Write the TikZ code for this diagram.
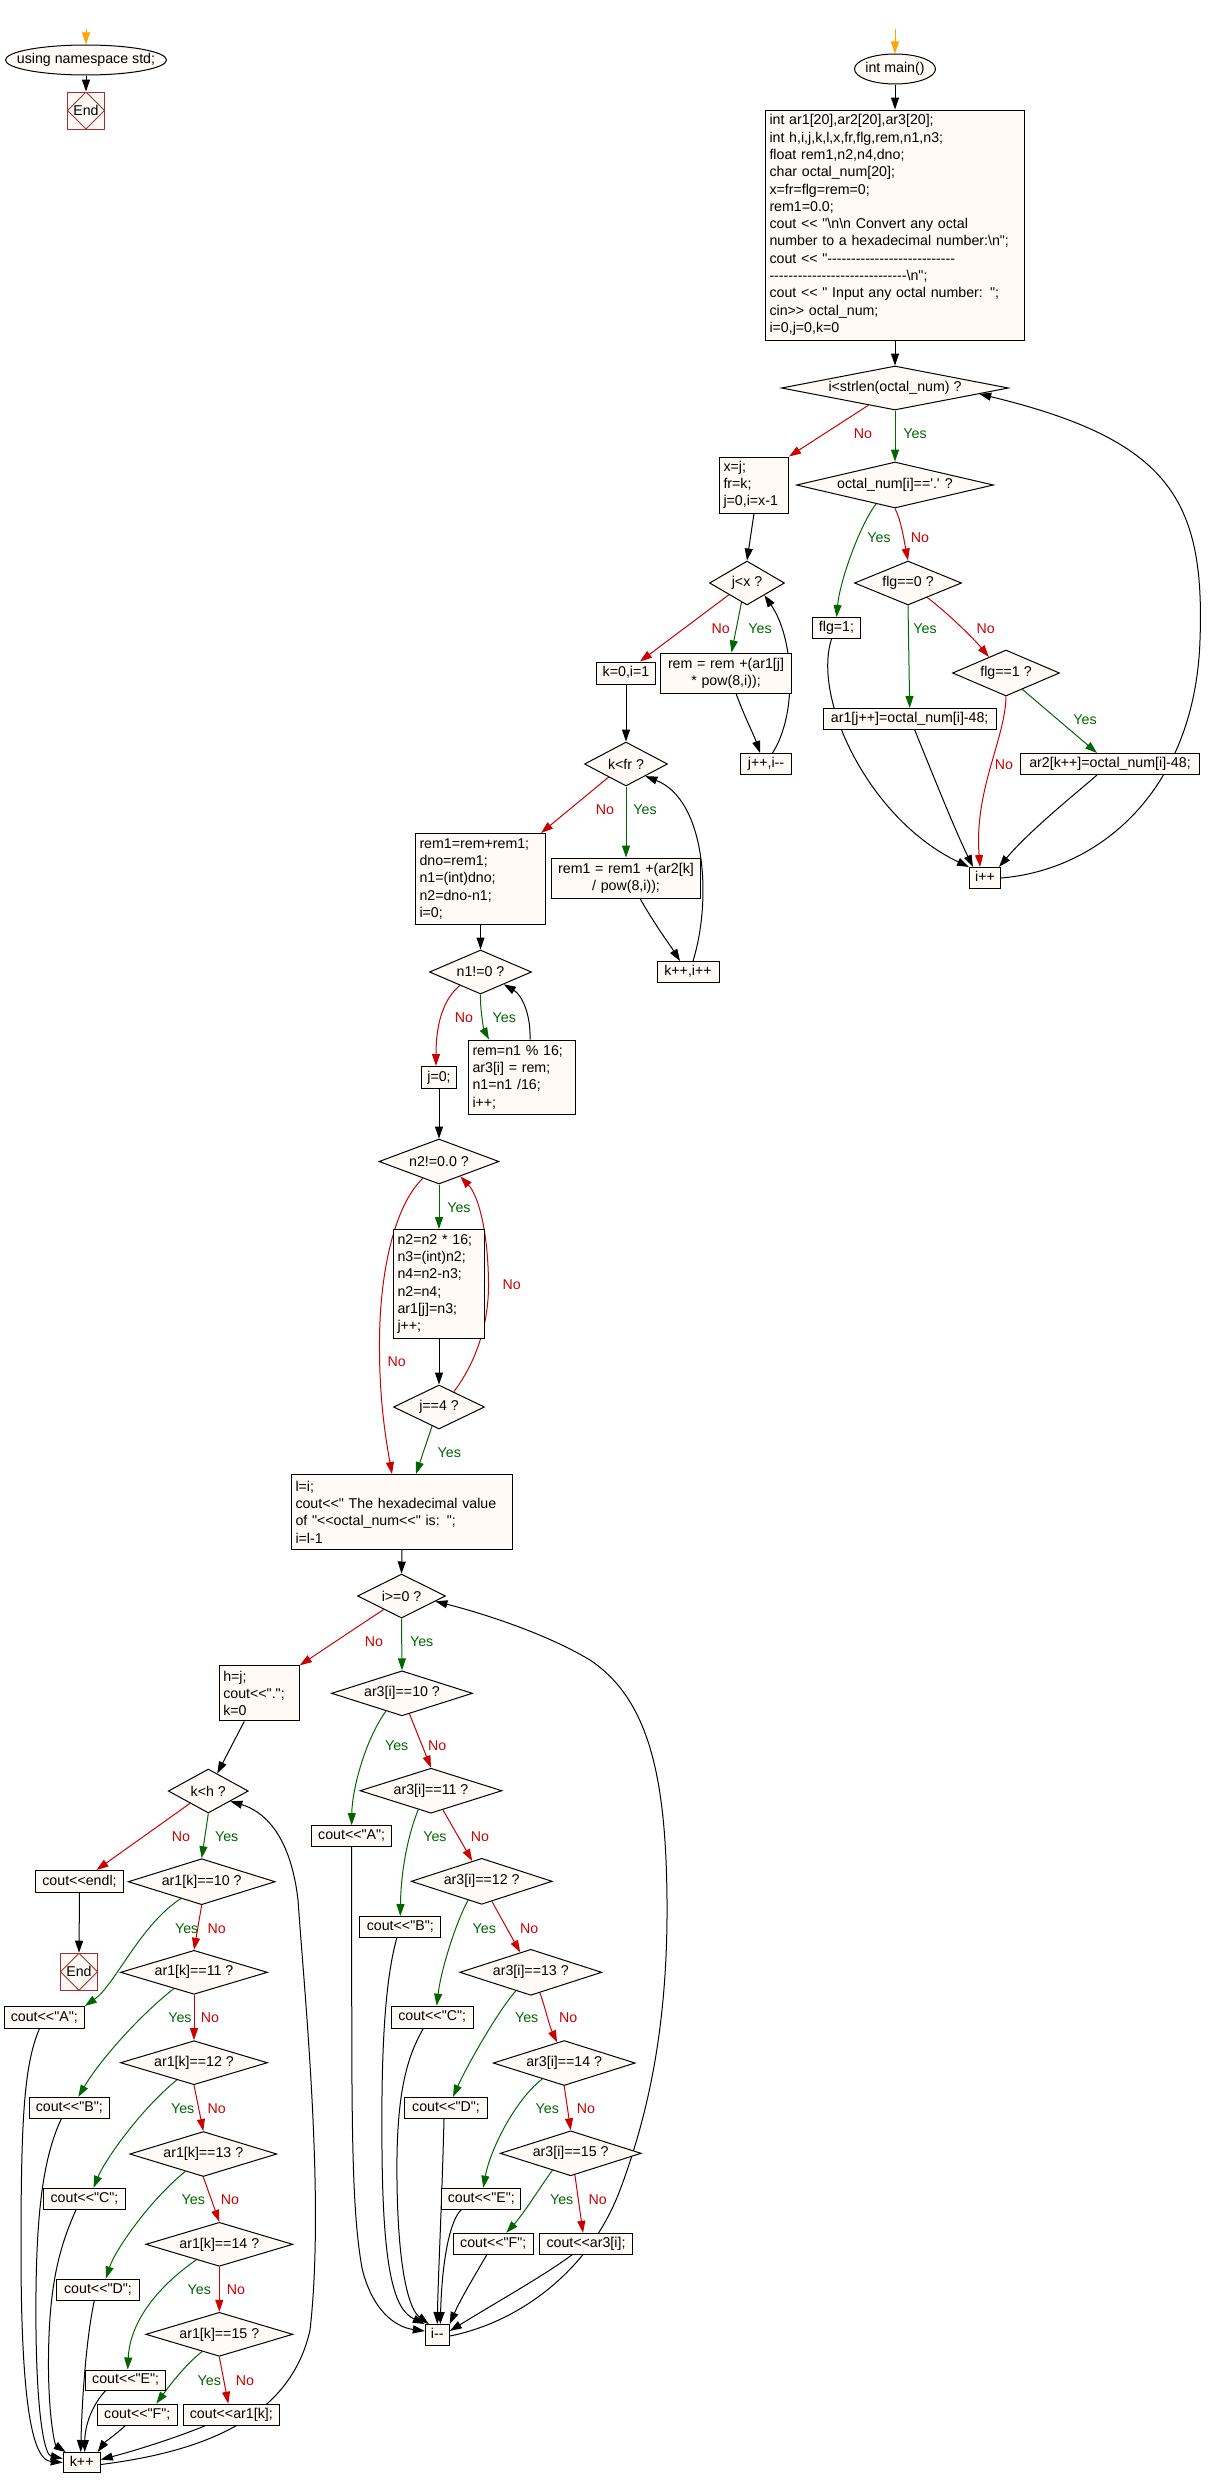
\documentclass[tikz,border=0pt]{standalone}
\usepackage{xcolor}
\usepackage{fontspec}
\newfontfamily\chartfamily{Liberation Sans}
\newcommand{\chartfont}{\chartfamily\fontsize{14.2pt}{17.3pt}\selectfont}
\usepackage{tikz}
\usetikzlibrary{shapes.geometric, arrows.meta, positioning}
\definecolor{boxfill}{HTML}{FFFAF5}
\definecolor{nored}{HTML}{CC0000}
\definecolor{yesgreen}{HTML}{006600}
\definecolor{endred}{HTML}{A03030}
\definecolor{startorange}{HTML}{FFA500}
\pgfdeclarelayer{edges}
\pgfsetlayers{edges,main}
\tikzset{zerowidth/.style={execute at begin node={\hbox to 0pt\bgroup\hss},
    execute at end node={\hss\egroup}}}
\tikzstyle{startstop} = [ellipse, draw=black, line width=1pt, fill=boxfill,
inner sep=0pt, minimum height=30pt, font=\chartfont, zerowidth]
\tikzstyle{process} = [rectangle, draw=black, line width=1pt, fill=boxfill,
inner sep=0pt, minimum height=21pt, text height=10.5pt, text depth=3pt,
font=\chartfont]
\tikzstyle{block} = [rectangle, draw=black, line width=1pt, fill=boxfill,
inner xsep=4pt, inner ysep=2pt, align=left, font=\chartfont]
\tikzstyle{decision} = [diamond, draw=black, line width=1pt, fill=boxfill,
inner sep=0pt, font=\chartfont, zerowidth]
\tikzstyle{stop} = [rectangle, draw=endred, line width=1pt, fill=boxfill,
minimum width=37pt, minimum height=37pt, inner sep=0pt, font=\chartfont,
path picture={\draw[endred, line width=0.8pt] (path picture bounding box.north)
  -- (path picture bounding box.east) -- (path picture bounding box.south)
  -- (path picture bounding box.west) -- cycle;}]
\tikzstyle{yeslbl} = [text=yesgreen, inner sep=0pt, font=\chartfont]
\tikzstyle{nolbl} = [text=nored, inner sep=0pt, font=\chartfont]
\tikzstyle{arrow} = [draw=black, line width=1pt, -{Triangle[length=12pt,width=8pt]}]
\tikzstyle{yesarrow} = [arrow, draw=yesgreen]
\tikzstyle{noarrow} = [arrow, draw=nored]
\tikzstyle{startarrow} = [arrow, draw=startorange]

\begin{document}
\begin{tikzpicture}[x=1pt, y=-1pt]
\useasboundingbox (0,0) rectangle (1214,2489);

% namespace part
\coordinate (sA) at (86,29);
\node (uns) [startstop, minimum width=161pt] at (86,60) {using namespace std;};
\node (endA) [stop] at (86,110.5) {End};

% main: reading the octal number
\coordinate (sB) at (895,29);
\node (mainfn) [startstop, minimum width=81pt] at (895,69) {int main()};
\node (decl) [block, text width=251pt, minimum height=230pt] at (895,225)
  {int ar1[20],ar2[20],ar3[20];\\
   int h,i,j,k,l,x,fr,flg,rem,n1,n3;\\
   float rem1,n2,n4,dno;\\
   char octal\_num[20];\\
   x=fr=flg=rem=0;\\
   rem1=0.0;\\
   cout << "\textbackslash n\textbackslash n Convert any octal\\
   number to a hexadecimal number:\textbackslash n";\\
   cout << "---------------------------\\
   -----------------------------\textbackslash n";\\
   cout << " Input any octal number: ";\\
   cin>> octal\_num;\\
   i=0,j=0,k=0};
\node (d1) [decision, minimum width=227pt, minimum height=44pt] at (895,388) {i<strlen(octal\_num) ?};
\node (xj) [block, text width=61pt, minimum height=56pt] at (754,485) {x=j;\\fr=k;\\j=0,i=x-1};
\node (d2) [decision, minimum width=197pt, minimum height=46pt] at (895,485) {octal\_num[i]=='.' ?};
\node (flg1) [process, minimum width=48pt] at (836.5,628) {flg=1;};
\node (d3) [decision, minimum width=107pt, minimum height=44pt] at (908,583) {flg==0 ?};
\node (d4) [decision, minimum width=107pt, minimum height=46pt] at (1006,673) {flg==1 ?};
\node (ar1b) [process, minimum width=173pt] at (909.7,719) {ar1[j++]=octal\_num[i]-48;};
\node (ar2b) [process, minimum width=179pt] at (1110,764) {ar2[k++]=octal\_num[i]-48;};
\node (ipp) [process, minimum width=31pt] at (985,878) {i++};

% integer and fraction parts
\node (d5) [decision, minimum width=75pt, minimum height=44pt] at (747,583) {j<x ?};
\node (kb) [process, minimum width=59pt, minimum height=22pt] at (626,673) {k=0,i=1};
\node (remb) [block, align=center, text width=123pt, minimum height=40pt] at (726,673) {rem = rem +(ar1[j]\\{}* pow(8,i));};
\node (jpp) [process, minimum width=51pt] at (766,764) {j++,i--};
\node (d6) [decision, minimum width=83pt, minimum height=44pt] at (626,764) {k<fr ?};
\node (rem1b) [block, text width=122pt, minimum height=91pt] at (480.5,879) {rem1=rem+rem1;\\dno=rem1;\\n1=(int)dno;\\n2=dno-n1;\\i=0;};
\node (rem1c) [block, align=center, text width=141pt, minimum height=40pt] at (626,878) {rem1 = rem1 +(ar2[k]\\/ pow(8,i));};
\node (kpp) [process, minimum width=62pt] at (688,972) {k++,i++};
\node (d7) [decision, minimum width=102pt, minimum height=44pt] at (480.5,972) {n1!=0 ?};
\node (j0) [process, minimum width=35pt, minimum height=22pt] at (439,1077.5) {j=0;};
\node (remn) [block, text width=99pt, minimum height=74pt] at (522,1077) {rem=n1 \% 16;\\ar3[i] = rem;\\n1=n1 /16;\\i++;};
\node (d8) [decision, minimum width=120pt, minimum height=45pt] at (439,1161.5) {n2!=0.0 ?};
\node (n2b) [block, text width=83pt, minimum height=109pt] at (439,1284) {n2=n2 * 16;\\n3=(int)n2;\\n4=n2-n3;\\n2=n4;\\ar1[j]=n3;\\j++;};
\node (d9) [decision, minimum width=91pt, minimum height=44pt] at (439,1407) {j==4 ?};
\node (lb) [block, text width=213pt, minimum height=75pt] at (402,1512) {l=i;\\cout<<" The hexadecimal value\\of "<<octal\_num<<" is: ";\\i=l-1};
\node (d10) [decision, minimum width=88pt, minimum height=44pt] at (401.5,1596) {i>=0 ?};

% fraction digits
\node (hb) [block, text width=72pt, minimum height=55pt] at (259.3,1693.3) {h=j;\\cout<<".";\\k=0};
\node (d11) [decision, minimum width=80pt, minimum height=44pt] at (208.3,1791) {k<h ?};
\node (coutendl) [process, minimum width=88pt, minimum height=22pt] at (79.5,1881.5) {cout<<endl;};
\node (endB) [stop] at (79,1971.7) {End};
\node (a10) [decision, minimum width=147pt, minimum height=46pt] at (201.7,1881.7) {ar1[k]==10 ?};
\node (a11) [decision, minimum width=147pt, minimum height=44pt] at (194,1972.3) {ar1[k]==11 ?};
\node (a12) [decision, minimum width=147pt, minimum height=44pt] at (194,2062.7) {ar1[k]==12 ?};
\node (a13) [decision, minimum width=147pt, minimum height=45pt] at (203.3,2154) {ar1[k]==13 ?};
\node (a14) [decision, minimum width=147pt, minimum height=44pt] at (219.3,2244.3) {ar1[k]==14 ?};
\node (a15) [decision, minimum width=147pt, minimum height=44pt] at (219.3,2334.3) {ar1[k]==15 ?};
\node (cA1) [process, minimum width=80pt, minimum height=22pt] at (44.3,2017.5) {cout<<"A";};
\node (cB1) [process, minimum width=80pt] at (69.3,2107.8) {cout<<"B";};
\node (cC1) [process, minimum width=82pt] at (84.5,2198.8) {cout<<"C";};
\node (cD1) [process, minimum width=83pt] at (98,2289.5) {cout<<"D";};
\node (cE1) [process, minimum width=80pt, minimum height=20pt] at (125.7,2380) {cout<<"E";};
\node (cF1) [process, minimum width=80pt] at (137.3,2414.7) {cout<<"F";};
\node (cX1) [process, minimum width=96pt] at (231.3,2414.7) {cout<<ar1[k];};
\node (kpp2) [process, minimum width=37pt, minimum height=20pt] at (81.7,2462.5) {k++};

% integer digits
\node (b10) [decision, minimum width=141pt, minimum height=45pt] at (402,1693.3) {ar3[i]==10 ?};
\node (b11) [decision, minimum width=142pt, minimum height=45pt] at (431,1790.7) {ar3[i]==11 ?};
\node (b12) [decision, minimum width=141pt, minimum height=46pt] at (481.7,1881.3) {ar3[i]==12 ?};
\node (b13) [decision, minimum width=142pt, minimum height=46pt] at (530.8,1972.3) {ar3[i]==13 ?};
\node (b14) [decision, minimum width=142pt, minimum height=45pt] at (564.2,2063) {ar3[i]==14 ?};
\node (b15) [decision, minimum width=141pt, minimum height=45pt] at (570.7,2153.3) {ar3[i]==15 ?};
\node (cA2) [process, minimum width=80pt] at (351.7,1836.2) {cout<<"A";};
\node (cB2) [process, minimum width=81pt] at (400.3,1927) {cout<<"B";};
\node (cC2) [process, minimum width=82pt, minimum height=22pt] at (432.2,2017.2) {cout<<"C";};
\node (cD2) [process, minimum width=83pt] at (446,2107.8) {cout<<"D";};
\node (cE2) [process, minimum width=79pt] at (481.3,2198.7) {cout<<"E";};
\node (cF2) [process, minimum width=80pt] at (493.3,2243.8) {cout<<"F";};
\node (cX2) [process, minimum width=93pt] at (586,2243.8) {cout<<ar3[i];};
\node (imm) [process, minimum width=24pt] at (437.3,2335) {i--};

% branch labels
\node (ln1) [nolbl] at (863,434) {No};
\node (ly1) [yeslbl] at (915,434) {Yes};
\node (ly2) [yeslbl] at (879,538) {Yes};
\node (ln2) [nolbl] at (920,538) {No};
\node (ly3) [yeslbl] at (925,628.7) {Yes};
\node (ln3) [nolbl] at (985.7,628.7) {No};
\node (ly4) [yeslbl] at (1085,720) {Yes};
\node (ln4) [nolbl] at (1004,765) {No};
\node (ln5) [nolbl] at (720.7,628.3) {No};
\node (ly5) [yeslbl] at (760,628.3) {Yes};
\node (ln6) [nolbl] at (605,810) {No};
\node (ly6) [yeslbl] at (645,810) {Yes};
\node (ln7) [nolbl] at (464,1017.7) {No};
\node (ly7) [yeslbl] at (504.3,1017.7) {Yes};
\node (ly8) [yeslbl] at (459,1207.7) {Yes};
\node (ln8) [nolbl] at (396.7,1361.7) {No};
\node (ln9) [nolbl] at (511.7,1285) {No};
\node (ly9) [yeslbl] at (449.3,1452.7) {Yes};
\node (ln10) [nolbl] at (374,1641.7) {No};
\node (ly10) [yeslbl] at (421.7,1641.7) {Yes};
\node (ln11) [nolbl] at (181,1836.7) {No};
\node (ly11) [yeslbl] at (226.7,1836.7) {Yes};
\node (ly12) [yeslbl] at (186.7,1928.3) {Yes};
\node (ln12) [nolbl] at (216.7,1928.3) {No};
\node (ly13) [yeslbl] at (180,2017.7) {Yes};
\node (ln13) [nolbl] at (210,2017.7) {No};
\node (ly14) [yeslbl] at (182.7,2109) {Yes};
\node (ln14) [nolbl] at (216.7,2109) {No};
\node (ly15) [yeslbl] at (193.3,2200) {Yes};
\node (ln15) [nolbl] at (230,2200) {No};
\node (ly16) [yeslbl] at (199.3,2290) {Yes};
\node (ln16) [nolbl] at (236,2290) {No};
\node (ly17) [yeslbl] at (209.3,2380.7) {Yes};
\node (ln17) [nolbl] at (245,2380.7) {No};
\node (ly18) [yeslbl] at (396.7,1746) {Yes};
\node (ln18) [nolbl] at (437.3,1746) {No};
\node (ly19) [yeslbl] at (435,1836.7) {Yes};
\node (ln19) [nolbl] at (480,1836.7) {No};
\node (ly20) [yeslbl] at (484.3,1928.3) {Yes};
\node (ln20) [nolbl] at (529.3,1928.3) {No};
\node (ly21) [yeslbl] at (526.7,2017.7) {Yes};
\node (ln21) [nolbl] at (568.3,2017.7) {No};
\node (ly22) [yeslbl] at (547.3,2109) {Yes};
\node (ln22) [nolbl] at (586,2109) {No};
\node (ly23) [yeslbl] at (561.7,2200) {Yes};
\node (ln23) [nolbl] at (597.7,2200) {No};

\begin{pgfonlayer}{edges}
\fill [white] (0,0) rectangle (1214,2489);
\draw [startarrow] (sA) -- (uns.north);
\draw [arrow] (uns.south) -- (endA.north);
\draw [startarrow] (sB) -- (mainfn.north);
\draw [arrow] (mainfn.south) -- (decl.north);
\draw [arrow] (decl.south) -- (d1.north);

% reading loop
\draw [noarrow] (d1.213) -- (xj.north east);
\draw [yesarrow] (d1.south) -- (d2.north);
\draw [yesarrow] (d2.225) .. controls (860,525) and (840,580) .. (flg1.north);
\draw [noarrow] (d2.south) .. controls (901,520) and (904,540) .. (d3.north);
\draw [yesarrow] (d3.south) -- (ar1b.north);
\draw [noarrow] (d3.323) .. controls (950,615) and (975,640) .. (d4.137);
\draw [yesarrow] (d4.315) -- ([xshift=-13pt]ar2b.north);
\draw [noarrow] (d4.south) .. controls (1005,740) and (974,790) .. ([xshift=-5pt]ipp.north);
\draw [arrow] ([xshift=-5pt]flg1.south) .. controls (812,700) and (870,820) .. (ipp.north west);
\draw [arrow] ([xshift=5pt]ar1b.south) .. controls (935,780) and (955,830) .. ([xshift=-12pt]ipp.north);
\draw [arrow] ([xshift=-13pt]ar2b.south) .. controls (1080,790) and (1030,830) .. ([xshift=-2pt]ipp.north east);
\draw [arrow] (ipp.east) .. controls (1100,870) and (1195,790) .. (1200,640)
  .. controls (1205,500) and (1170,440) .. (d1.356);

% integer part
\draw [arrow] (xj.south) -- (d5.north);
\draw [noarrow] (d5.213) -- ([xshift=14pt]kb.north);
\draw [yesarrow] (d5.254) -- ([xshift=5.5pt]remb.north);
\draw [arrow] ([xshift=10pt]remb.south) .. controls (745,718) and (754,735) .. ([xshift=-6pt]jpp.north);
\draw [arrow] ([xshift=6.5pt]jpp.north) .. controls (797,715) and (795,640) .. (d5.325);

% fraction part
\draw [arrow] (kb.south) -- (d6.north);
\draw [noarrow] (d6.217) -- ([xshift=-5pt]rem1b.north east);
\draw [yesarrow] (d6.south) -- (rem1c.north);
\draw [arrow] ([xshift=14pt]rem1c.south) .. controls (655,925) and (670,945) .. ([xshift=-8pt]kpp.north);
\draw [arrow] ([xshift=5pt]kpp.north) .. controls (712,900) and (706,800) .. (d6.328);

% hexadecimal digits
\draw [arrow] (rem1b.south) -- (d7.north);
\draw [noarrow] (d7.213) .. controls (445,998) and (436,1020) .. ([xshift=-3pt]j0.north);
\draw [yesarrow] (d7.south) .. controls (480,1010) and (484,1030) .. ([xshift=-33pt]remn.north);
\draw [arrow] ([xshift=8pt]remn.north) .. controls (531,1015) and (522,995) .. (d7.332);
\draw [arrow] (j0.south) -- (d8.north);
\draw [yesarrow] (d8.south) -- (n2b.north);
\draw [noarrow] (d8.226) .. controls (395,1205) and (380,1270) .. (379.5,1340)
  .. controls (379,1400) and (386,1440) .. ([xshift=-10pt]lb.north);
\draw [arrow] (n2b.south) -- (d9.north);
\draw [noarrow] (d9.46) .. controls (478,1360) and (489,1320) .. (488.5,1283)
  .. controls (488,1230) and (478,1195) .. (d8.325);
\draw [yesarrow] (d9.250) -- ([xshift=14pt]lb.north);
\draw [arrow] (lb.south) -- (d10.north);
\draw [noarrow] (d10.217) -- (hb.north east);
\draw [yesarrow] (d10.south) -- (b10.north);

% printing the fraction
\draw [arrow] ([xshift=-15pt]hb.south) -- (d11.63);
\draw [noarrow] (d11.214) -- ([xshift=17pt]coutendl.north);
\draw [yesarrow] (d11.south) -- (a10.north);
\draw [arrow] (coutendl.south) -- (endB.north);
\draw [yesarrow] (a10.219) .. controls (140,1925) and (115,1985) .. (cA1.north east);
\draw [noarrow] (a10.south) -- (a11.north);
\draw [yesarrow] (a11.219) .. controls (140,2015) and (100,2060) .. ([xshift=9pt]cB1.north);
\draw [noarrow] (a11.south) -- (a12.north);
\draw [yesarrow] (a12.225) .. controls (140,2110) and (105,2160) .. ([xshift=9pt]cC1.north);
\draw [noarrow] (a12.south) -- (a13.north);
\draw [yesarrow] (a13.224) .. controls (150,2200) and (115,2250) .. ([xshift=8pt]cD1.north);
\draw [noarrow] (a13.south) -- (a14.north);
\draw [yesarrow] (a14.214) .. controls (160,2285) and (130,2320) .. ([xshift=2pt]cE1.north);
\draw [noarrow] (a14.south) -- (a15.north);
\draw [yesarrow] (a15.225) .. controls (185,2365) and (170,2385) .. ([xshift=19pt]cF1.north);
\draw [noarrow] (a15.south) -- ([xshift=-3pt]cX1.north);
\draw [arrow] ([xshift=-5pt]cA1.south) .. controls (24,2065) and (21,2120) .. (21,2250)
  .. controls (21,2420) and (35,2460) .. (kpp2.west);
\draw [arrow] ([xshift=-8pt]cB1.south) .. controls (42,2160) and (35,2220) .. (36,2330)
  .. controls (37,2420) and (45,2455) .. ([yshift=4pt]kpp2.west);
\draw [arrow] ([xshift=-8.5pt]cC1.south) .. controls (58,2250) and (48,2290) .. (48.5,2370)
  .. controls (49,2420) and (55,2445) .. ([xshift=3pt]kpp2.north west);
\draw [arrow] ([xshift=-3.7pt]cD1.south) .. controls (86,2340) and (82,2400) .. ([xshift=-1pt]kpp2.north);
\draw [arrow] ([xshift=-20pt]cE1.south) .. controls (92,2405) and (85,2425) .. ([xshift=3pt]kpp2.north);
\draw [arrow] ([xshift=-12pt]cF1.south) .. controls (115,2435) and (105,2442) .. ([xshift=-3pt]kpp2.north east);
\draw [arrow] ([xshift=-26pt]cX1.south) .. controls (170,2440) and (130,2452) .. ([yshift=3pt]kpp2.east);
\draw [arrow] ([yshift=-2pt]kpp2.east) .. controls (200,2452) and (290,2420) .. (310,2330)
  .. controls (325,2200) and (305,2000) .. (298,1900)
  .. controls (290,1830) and (260,1810) .. (d11.335);

% printing the integer part
\draw [yesarrow] (b10.228) .. controls (365,1740) and (352,1790) .. (cA2.north);
\draw [noarrow] (b10.290) -- (b11.north);
\draw [yesarrow] (b11.236) .. controls (408,1835) and (401,1870) .. (cB2.north);
\draw [noarrow] (b11.302) -- (b12.115);
\draw [yesarrow] (b12.234) .. controls (455,1925) and (441,1970) .. ([xshift=4.5pt]cC2.north);
\draw [noarrow] (b12.297) -- (b13.118);
\draw [yesarrow] (b13.231) .. controls (495,2015) and (465,2070) .. ([xshift=7pt]cD2.north);
\draw [noarrow] (b13.294) .. controls (546,2010) and (549,2025) .. (b14.109);
\draw [yesarrow] (b14.216) .. controls (515,2100) and (490,2150) .. ([xshift=2pt]cE2.north);
\draw [noarrow] (b14.south) -- (b15.north);
\draw [yesarrow] (b15.223) .. controls (540,2187) and (525,2212) .. ([xshift=13pt]cF2.north);
\draw [noarrow] (b15.281) -- ([xshift=-3pt]cX2.north);
\draw [arrow] (cA2.south) .. controls (352,2100) and (350,2200) .. (362,2268)
  .. controls (372,2310) and (395,2327) .. ([yshift=4pt]imm.west);
\draw [arrow] ([xshift=-3.5pt]cB2.south) .. controls (385,1980) and (381,2050) .. (382,2150)
  .. controls (383,2275) and (395,2310) .. (imm.north west);
\draw [arrow] ([xshift=-9pt]cC2.south) .. controls (405,2060) and (396,2100) .. (397,2180)
  .. controls (398,2275) and (410,2310) .. ([xshift=4pt]imm.north west);
\draw [arrow] ([xshift=-2pt]cD2.south) .. controls (442,2200) and (438,2280) .. (imm.north);
\draw [arrow] ([xshift=-20pt]cE2.south) .. controls (450,2220) and (442,2260) .. ([xshift=3pt]imm.north);
\draw [arrow] ([xshift=-6.5pt]cF2.south) .. controls (475,2275) and (460,2300) .. (imm.north east);
\draw [arrow] ([xshift=-14pt]cX2.south) .. controls (545,2275) and (500,2300) .. ([yshift=4pt]imm.east);
\draw [arrow] ([yshift=-1pt]imm.east) .. controls (520,2322) and (590,2270) .. (620,2190)
  .. controls (650,2110) and (668,2020) .. (667,1900)
  .. controls (666,1780) and (650,1700) .. (590,1660)
  .. controls (540,1630) and (470,1610) .. (d10.351);
\end{pgfonlayer}
\end{tikzpicture}
\end{document}
